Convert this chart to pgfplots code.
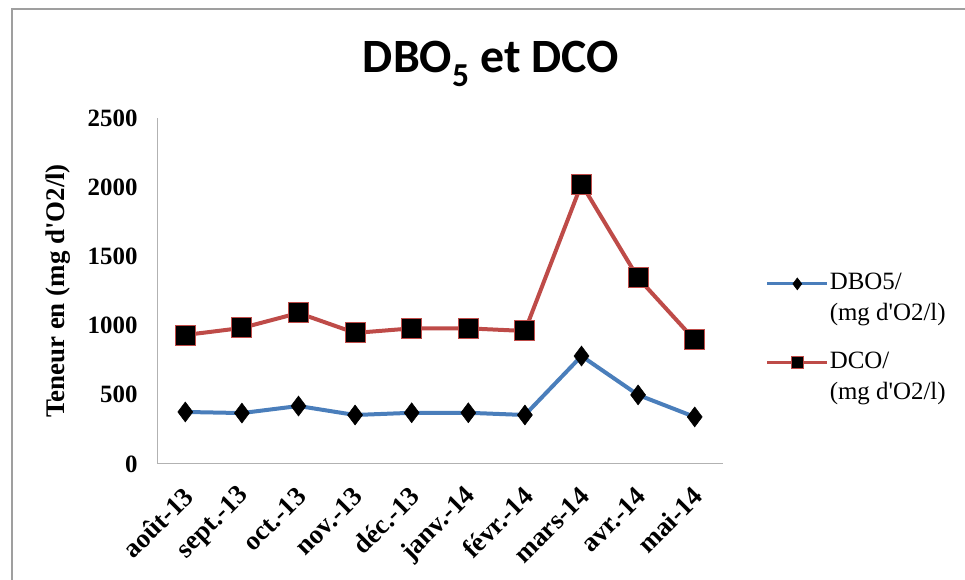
\documentclass[border=0pt]{standalone}
\usepackage{pgfplots}
\pgfplotsset{compat=1.18}
\usepackage{fontspec}
\setmainfont{Liberation Serif}
\newfontfamily\titlefont{Carlito}
\definecolor{dbo}{HTML}{4A7EBB}
\definecolor{dco}{HTML}{BE4B48}
\begin{document}
\begin{tikzpicture}[x=1bp,y=1bp]
\useasboundingbox (0,0) rectangle (965,580);
\draw[gray!75, line width=1.5bp] (12,-3) rectangle (968,571);
\begin{axis}[
  at={(157bp,116bp)}, anchor=south west, scale only axis,
  width=566bp, height=346bp,
  xmin=-0.5, xmax=9.5, ymin=0, ymax=2500,
  ytick={0,500,1000,1500,2000,2500},
  xtick={0,1,2,3,4,5,6,7,8,9},
  xticklabels={août-13,sept.-13,oct.-13,nov.-13,déc.-13,janv.-14,févr.-14,mars-14,avr.-14,mai-14},
  axis lines=left, axis line style={-, gray!60, line width=1bp},
  major tick length=0pt,
  /pgf/number format/1000 sep={},
  /pgf/number format/assume math mode=true,
  yticklabel style={font=\bfseries\fontsize{25}{25}\selectfont, anchor=east, xshift=-16bp},
  xticklabel style={font=\bfseries\fontsize{27}{27}\selectfont, rotate=45, anchor=east, xshift=-14bp, yshift=-22bp},
  ylabel={Teneur en (mg d\textquotesingle O2/l)},
  every axis y label/.style={at={(-0.175,0.5)}, rotate=90, anchor=center,
    font=\bfseries\fontsize{27}{27}\selectfont},
  legend style={at={(1.07,0.56)}, anchor=north west, draw=none, fill=none,
    font=\fontsize{25}{31}\selectfont, nodes={align=left, inner sep=1bp},
    row sep=28bp},
  legend cell align=left,
  legend image code/.code={
    \draw[#1, line width=3bp, mark size=6bp, mark repeat=2, mark phase=2]
      plot coordinates {(0bp,14bp) (30bp,14bp) (60bp,14bp)};
  },
]
\addplot[dbo, line width=4bp, mark=diamond*, mark size=10bp,
  mark options={fill=black, draw=black, line width=0.5bp}]
  coordinates {(0,376) (1,368) (2,419) (3,354) (4,370) (5,370) (6,354) (7,780) (8,499) (9,340)};
\addlegendentry{DBO5/\\(mg d\textquotesingle O2/l)}
\addplot[dco, line width=4bp, mark=square*, mark size=10bp,
  mark options={fill=black, draw=dco, line width=1bp}]
  coordinates {(0,932) (1,983) (2,1091) (3,947) (4,980) (5,980) (6,961) (7,2023) (8,1344) (9,896)};
\addlegendentry{DCO/\\(mg d\textquotesingle O2/l)}
\end{axis}
\node[font=\titlefont\bfseries\fontsize{48}{48}\selectfont] at (491,516) {DBO\textsubscript{5} et DCO};
\end{tikzpicture}
\end{document}
